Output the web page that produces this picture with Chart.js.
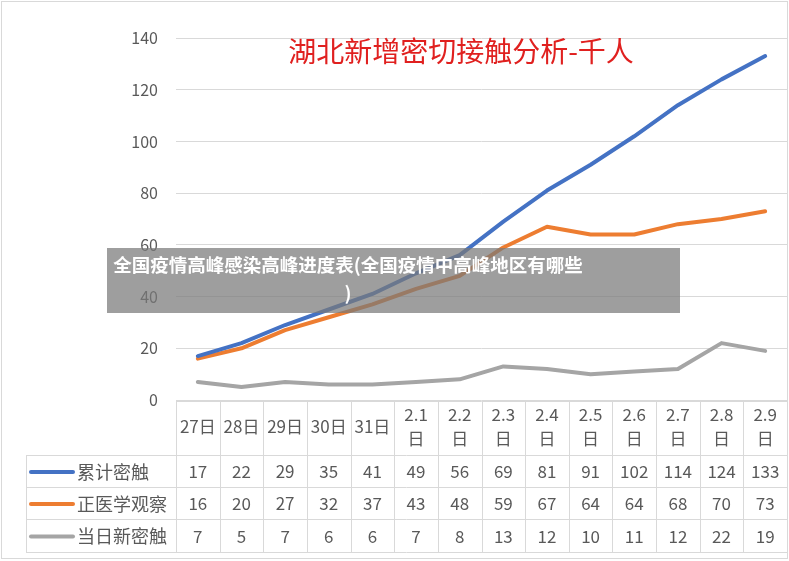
<!DOCTYPE html>
<html>
<head>
<meta charset="utf-8">
<script src="https://cdn.jsdelivr.net/npm/chart.js@4.4.1/dist/chart.umd.min.js"></script>
<style>
  body { margin: 0; background: #fff; }
  #wrap { position: relative; width: 789px; height: 561px; font-family: "Noto Sans CJK SC", sans-serif; }
  #title {
    position: absolute; left: 211px; width: 500px; top: 30px;
    text-align: center; font-size: 28px; color: #e0201f; line-height: 40px;
  }
  #banner {
    position: absolute; left: 107px; top: 248px; width: 573px; height: 65px;
    background: rgba(120, 120, 120, 0.72);
  }
  #banner div {
    position: absolute; left: 0; top: 2px; width: 482px;
    text-align: center; color: #fff; font-weight: bold; font-size: 18.5px; line-height: 28px;
  }
</style>
</head>
<body>
<div id="wrap">
  <canvas id="lineChart" width="789" height="561"></canvas>
  <div id="title">湖北新增密切接触分析-千人</div>
  <div id="banner"><div>全国疫情高峰感染高峰进度表(全国疫情中高峰地区有哪些<br>)</div></div>
</div>
<script>
// Data
const categories = ['27日', '28日', '29日', '30日', '31日', '2.1日', '2.2日', '2.3日', '2.4日', '2.5日', '2.6日', '2.7日', '2.8日', '2.9日'];
const totalContacts = [17, 22, 29, 35, 41, 49, 56, 69, 81, 91, 102, 114, 124, 133];
const underObservation = [16, 20, 27, 32, 37, 43, 48, 59, 67, 64, 64, 68, 70, 73];
const dailyNew = [7, 5, 7, 6, 6, 7, 8, 13, 12, 10, 11, 12, 22, 19];
const yTicks = [0, 20, 40, 60, 80, 100, 120, 140];

const seriesNames = ['累计密触', '正医学观察', '当日新密触'];
const seriesColors = ['#4472c4', '#ed7d31', '#a5a5a5'];
const seriesData = [totalContacts, underObservation, dailyNew];

const textColor = '#595959';
const lineColor = '#d9d9d9';
const fontFamily = '"Noto Sans CJK SC", sans-serif';

// Data table under the plot, columns follow the x scale
const dataTable = {
    id: 'dataTable',
    afterDraw(chart) {
        const ctx = chart.ctx;
        const x = chart.scales.x;
        const colW = x.width / categories.length;
        const headTop = 401;
        const rowLines = [455, 487, 519, 552];
        const legendLeft = 26;

        ctx.save();
        ctx.strokeStyle = lineColor;
        ctx.lineWidth = 1;

        // outer frame
        ctx.strokeRect(1.5, 1.5, 786, 557);

        ctx.beginPath();
        ctx.moveTo(x.left, headTop + 0.5);
        ctx.lineTo(x.right, headTop + 0.5);
        rowLines.forEach(y => {
            ctx.moveTo(legendLeft, y + 0.5);
            ctx.lineTo(x.right, y + 0.5);
        });
        ctx.moveTo(legendLeft + 0.5, rowLines[0]);
        ctx.lineTo(legendLeft + 0.5, rowLines[3]);
        for (let i = 0; i <= categories.length; i++) {
            const cx = Math.round(x.left + i * colW) + 0.5;
            ctx.moveTo(cx, headTop);
            ctx.lineTo(cx, rowLines[3]);
        }
        ctx.stroke();

        ctx.fillStyle = textColor;
        ctx.textAlign = 'center';
        ctx.textBaseline = 'middle';
        ctx.font = '17px ' + fontFamily;

        // header labels
        categories.forEach((label, i) => {
            const cx = x.getPixelForValue(i);
            const m = label.match(/^(\d+\.\d+)(日)$/);
            if (m) {
                ctx.fillText(m[1], cx, 415);
                ctx.fillText(m[2], cx, 439);
            } else {
                ctx.fillText(label, cx, 427);
            }
        });

        // series rows
        seriesData.forEach((vals, r) => {
            const cy = (rowLines[r] + rowLines[r + 1]) / 2 + 1;
            vals.forEach((v, i) => {
                ctx.fillText(String(v), x.getPixelForValue(i), cy);
            });
            ctx.strokeStyle = seriesColors[r];
            ctx.lineWidth = 4;
            ctx.lineCap = 'round';
            ctx.beginPath();
            ctx.moveTo(31, cy);
            ctx.lineTo(73, cy);
            ctx.stroke();
            ctx.textAlign = 'left';
            ctx.font = '18px ' + fontFamily;
            ctx.fillText(seriesNames[r], 77, cy);
            ctx.textAlign = 'center';
            ctx.font = '17px ' + fontFamily;
        });
        ctx.restore();
    }
};

new Chart(document.getElementById('lineChart'), {
    type: 'line',
    data: {
        labels: categories,
        datasets: seriesData.map((vals, i) => ({
            label: seriesNames[i],
            data: vals,
            borderColor: seriesColors[i],
            backgroundColor: seriesColors[i],
            borderWidth: 4,
            borderCapStyle: 'round',
            borderJoinStyle: 'round',
            pointRadius: 0,
            tension: 0
        }))
    },
    options: {
        responsive: false,
        animation: false,
        layout: { padding: { left: 0, right: 2, top: 38, bottom: 161 } },
        scales: {
            x: {
                offset: true,
                grid: { display: false },
                border: { display: false },
                ticks: { display: false },
                afterFit: scale => { scale.height = 0; }
            },
            y: {
                min: 0,
                max: 140,
                afterBuildTicks: scale => { scale.ticks = yTicks.map(v => ({ value: v })); },
                afterFit: scale => { scale.width = 176; },
                grid: { color: lineColor, drawTicks: false },
                border: { display: false },
                ticks: {
                    padding: 18,
                    color: textColor,
                    font: { size: 16, family: fontFamily }
                }
            }
        },
        plugins: {
            legend: { display: false },
            title: { display: false },
            tooltip: { enabled: false }
        }
    },
    plugins: [dataTable]
});
</script>
</body>
</html>
